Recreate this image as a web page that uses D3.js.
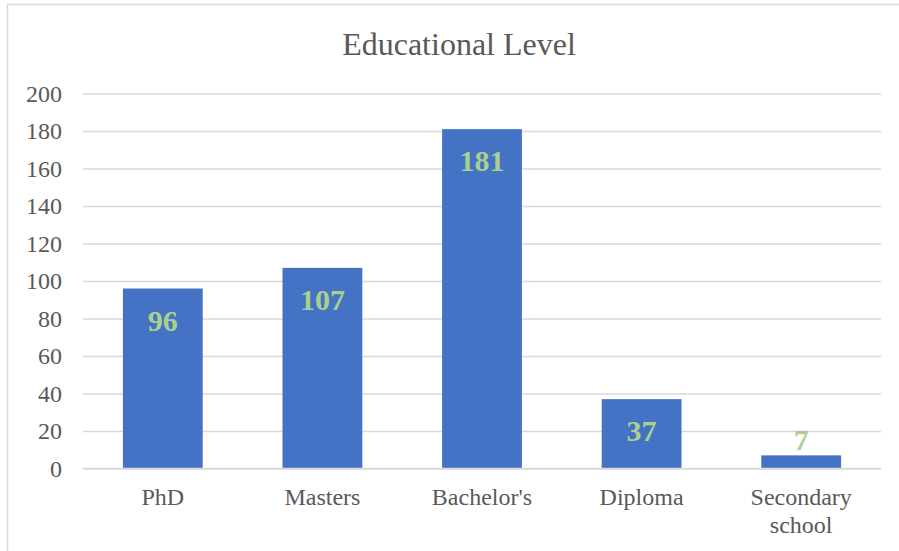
<!DOCTYPE html>
<html><head><meta charset="utf-8">
<script src="https://cdn.jsdelivr.net/npm/d3@7"></script>
<style>body{margin:0;background:#fff}svg{display:block}text{font-family:"Liberation Serif","Times New Roman",serif}</style>
</head><body>
<svg id="c" width="899" height="551"></svg>
<script>
const categories = ["PhD","Masters","Bachelor's","Diploma","Secondary school"];
const values = [96,107,181,37,7];
const yTicks = [0,20,40,60,80,100,120,140,160,180,200];
const title = "Educational Level";

const svg = d3.select("#c");
const m = {left:83, right:881, top:93.5, bottom:468.5};

svg.append("rect").attr("x",7.5).attr("y",4.5).attr("width",1000).attr("height",1000)
  .attr("fill","#fff").attr("stroke","#d9d9d9").attr("stroke-width",1.5);

const x = d3.scaleBand().domain(categories).range([m.left,m.right]).paddingInner(0.5).paddingOuter(0.25);
const y = d3.scaleLinear().domain([0,200]).range([m.bottom,m.top]);

const yAxis = d3.axisLeft(y).tickValues(yTicks).tickSize(-(m.right-m.left)).tickPadding(21);
const gy = svg.append("g").attr("transform",`translate(${m.left},0)`).call(yAxis);
gy.select(".domain").remove();
gy.selectAll(".tick line").attr("stroke","#d9d9d9").attr("stroke-width",1.5);
gy.selectAll(".tick text").attr("fill","#595959").attr("font-size","24px")
  .attr("font-family","'Liberation Serif','Times New Roman',serif");

svg.append("g").selectAll("rect").data(values).join("rect")
  .attr("x",(d,i)=>x(categories[i]))
  .attr("y",d=>y(d))
  .attr("width",x.bandwidth())
  .attr("height",d=>y(0)-y(d))
  .attr("fill","#4472C4");

svg.append("line").attr("x1",m.left).attr("x2",m.right).attr("y1",y(0)).attr("y2",y(0))
  .attr("stroke","#d9d9d9").attr("stroke-width",1.5);

svg.append("g").selectAll("text").data(values).join("text")
  .attr("x",(d,i)=>x(categories[i])+x.bandwidth()/2)
  .attr("y",d=> (y(0)-y(d))>50 ? y(d)+42 : y(d)-5)
  .attr("text-anchor","middle")
  .attr("font-size","30px").attr("font-weight","bold").attr("fill","#A9D18E")
  .text(d=>d);

const xl = svg.append("g").selectAll("text").data(categories).join("text")
  .attr("x",d=>x(d)+x.bandwidth()/2)
  .attr("y",505)
  .attr("text-anchor","middle").attr("font-size","24px").attr("fill","#595959");
xl.each(function(d){
  const t = d3.select(this);
  const words = d==="Secondary school" ? ["Secondary","school"] : [d];
  words.forEach((w,i)=>t.append("tspan").attr("x",t.attr("x")).attr("dy",i?28:0).text(w));
});

svg.append("text").attr("x",459).attr("y",55).attr("text-anchor","middle")
  .attr("font-size","32px").attr("fill","#595959").text(title);
</script>
</body></html>
